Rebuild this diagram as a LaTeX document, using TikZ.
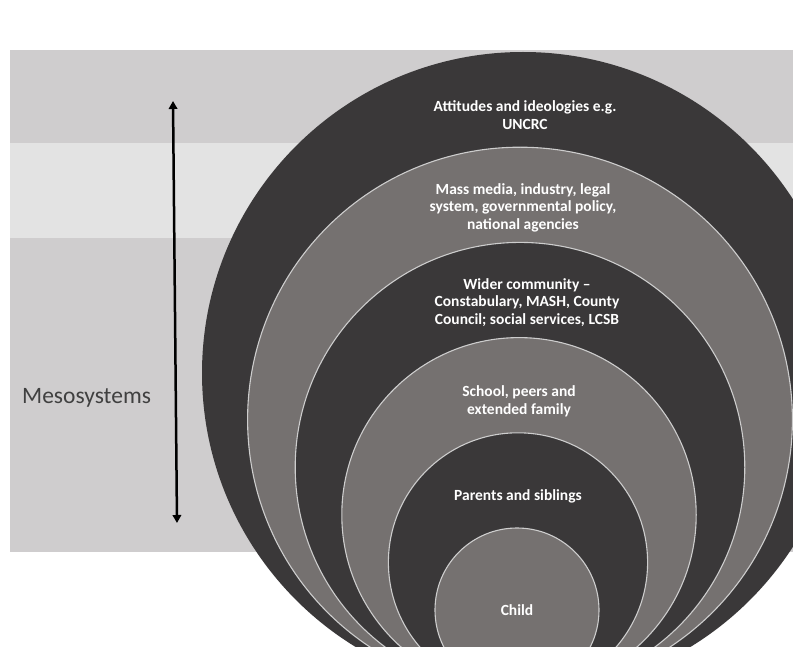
\documentclass[tikz,border=0pt]{standalone}
\usepackage{fontspec}
\setmainfont{Carlito}
\usetikzlibrary{positioning,arrows.meta}

\definecolor{bandgrey}{RGB}{207,205,206}
\definecolor{bandlight}{RGB}{227,227,227}
\definecolor{ringdark}{RGB}{58,56,57}
\definecolor{ringgrey}{RGB}{117,113,112}
\definecolor{ringedge}{RGB}{205,205,205}
\definecolor{mesotext}{RGB}{64,64,64}

\begin{document}
\begin{tikzpicture}[x=1pt, y=-1pt,
    ring/.style={circle,draw=ringedge,line width=1.1pt,inner sep=0pt},
    dark ring/.style={ring,fill=ringdark},
    grey ring/.style={ring,fill=ringgrey},
    lbl/.style={text=white,align=center,font=\bfseries\fontsize{15.5}{17.5}\selectfont},
    updown/.style={line width=2.5pt,{Triangle[length=8pt,width=8.5pt]}-{Triangle[length=8pt,width=8.5pt]}}]

  \clip (0,0) rectangle (793,647);
  \fill[white] (0,0) rectangle (793,647);

  % bands behind the circles
  \fill[bandgrey] (10,50) rectangle (793,143);
  \fill[bandlight] (10,143) rectangle (793,238);
  \fill[bandgrey] (10,238) rectangle (793,552);

  \node[dark ring,draw=none,minimum size=642pt] (c6) at (523,373) {};
  \node[grey ring,minimum size=544.8pt] (c5) at (520,419.6) {};
  \node[dark ring,minimum size=449.6pt] (c4) at (520,467.2) {};
  \node[grey ring,minimum size=354.4pt] (c3) at (519,514.8) {};
  \node[dark ring,minimum size=259.2pt] (c2) at (518,562.4) {};
  \node[grey ring,minimum size=164pt] (c1) at (517,610) {};

  \node[lbl,below=63.5pt of c6.north,anchor=center,xshift=2pt] (t6) {Attitudes and ideologies e.g.\\UNCRC};
  \node[lbl,below=61pt of c5.north,anchor=center,xshift=3pt] (t5) {Mass media, industry, legal\\system, governmental policy,\\national agencies};
  \node[lbl,below=60.5pt of c4.north,anchor=center,xshift=7pt] (t4) {Wider community --\\Constabulary, MASH, County\\Council; social services, LCSB};
  \node[lbl,below=64pt of c3.north,anchor=center] (t3) {School, peers and\\extended family};
  \node[lbl,below=64pt of c2.north,anchor=center] (t2) {Parents and siblings};
  \node[lbl,anchor=center] (t1) at (c1) {Child};

  \coordinate (up) at (173,101);
  \coordinate (down) at (177,523);
  \draw[updown] (up) -- (down);

  \node[anchor=west,inner sep=0pt,text=mesotext,font=\fontsize{23.5}{27}\selectfont] (meso) at (22,398) {Mesosystems};

\end{tikzpicture}
\end{document}
